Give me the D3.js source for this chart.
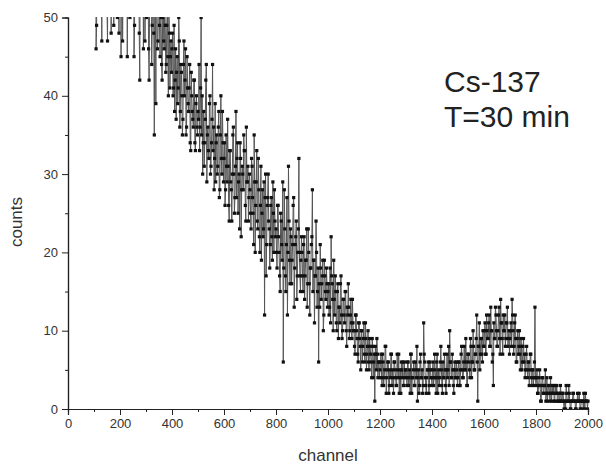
<!DOCTYPE html>
<html><head><meta charset="utf-8">
<script src="https://cdn.jsdelivr.net/npm/d3@7"></script>
<style>body{margin:0;background:#fff}svg{display:block}</style>
</head><body>
<script>
// counts read at channels 100,104,...,2000
const startA = 100, stepA = 4;
const countsA = [
63,58,46,66,55,61,70,58,64,52,67,60,59,47,65,57,62,71,53,49,60,64,58,69,48,
61,45,66,57,52,63,59,45,68,55,62,58,64,57,49,60,53,66,59,42,62,51,65,56,47,
58,52,56,42,60,54,49,56,35,51,58,46,53,49,55,44,50,47,52,43,49,45,51,41,47,
46,40,49,42,37,45,41,47,38,43,35,44,40,46,36,41,38,44,33,40,37,42,34,39,36,
38,44,36,50,40,34,31,37,44,35,33,39,30,34,44,36,32,29,35,31,38,28,40,30,34,
32,26,35,29,31,24,33,28,30,36,25,31,27,34,29,23,32,28,30,35,33,24,29,31,27,
28,23,31,25,35,20,29,24,32,22,26,19,28,23,12,30,21,27,24,18,26,22,29,20,24,
23,18,26,20,15,24,19,6,28,17,21,12,31,19,23,16,21,27,18,22,14,20,32,17,19,
20,15,22,17,19,13,23,16,18,21,28,19,11,17,20,15,6,13,18,16,19,12,17,14,16,
15,12,18,22,16,10,14,17,11,15,9,13,16,12,10,14,11,15,8,12,13,10,14,9,11,
10,7,12,9,6,11,8,10,6,9,7,11,5,8,6,9,7,4,8,6,1,7,9,4,6,
5,7,3,6,4,8,2,5,6,3,4,7,5,2,6,4,3,5,7,4,2,5,6,3,4,
5,3,6,4,2,7,4,5,3,6,4,1,5,3,7,4,2,11,6,3,4,5,2,6,4,
3,6,4,5,2,7,4,3,6,5,2,4,7,3,5,4,8,10,6,4,5,2,6,4,5,
4,6,3,7,5,4,8,5,6,3,7,5,9,4,6,8,5,7,12,1,8,5,9,7,10,
8,11,7,10,9,12,8,10,6,3,9,13,10,8,12,9,14,11,7,10,12,9,11,8,10,
9,11,14,10,8,12,6,9,7,10,5,8,6,9,7,5,8,4,6,5,7,3,5,4,13,
3,5,2,4,3,1,4,2,3,5,2,1,3,2,4,1,2,3,1,2,3,1,2,1,2,
1,2,0,1,3,1,1,2,0,1,1,2,1,0,1,2,1,1,0,1,1,2,0,1,1,
1
];
// counts read at channels 102,106,...,1998
const startB = 102, stepB = 4;
const countsB = [
57,66,49,61,72,54,60,47,68,63,56,70,51,64,59,66,48,62,73,55,60,67,50,63,58,
64,55,47,69,60,53,66,58,62,50,67,56,61,45,63,57,52,65,48,60,55,63,46,58,52,
50,57,46,53,59,44,52,48,56,39,51,47,54,45,50,42,55,46,49,44,52,40,48,45,43,
48,41,38,46,43,39,50,36,44,40,37,47,42,35,45,39,41,34,43,38,36,42,33,40,35,
37,33,41,35,30,38,34,42,29,36,32,40,31,37,33,28,39,34,30,36,27,35,32,38,29,
34,28,31,37,26,33,29,24,35,30,27,38,32,25,30,34,22,31,28,33,26,36,29,24,30,
25,32,27,21,29,26,33,23,28,20,31,25,22,29,27,17,26,30,23,21,27,19,25,28,22,
20,26,22,17,25,21,29,18,23,15,27,20,24,16,22,19,26,13,21,24,17,23,20,15,22,
17,21,14,19,23,16,20,12,18,22,15,19,17,24,13,18,16,21,14,17,10,19,15,18,13,
16,13,11,17,14,19,12,15,10,16,13,11,17,9,14,12,15,10,13,16,9,12,11,14,10,
8,12,10,7,11,9,5,10,8,11,6,9,7,10,5,8,6,9,4,7,8,5,7,6,4,
6,4,7,3,5,8,4,6,2,5,7,3,4,6,5,3,7,4,2,5,6,4,3,6,5,
4,6,3,5,7,2,4,6,3,5,8,4,2,6,4,5,3,7,4,2,5,6,3,5,4,
5,3,7,4,6,2,5,4,8,3,6,4,5,2,7,5,3,6,4,7,3,5,4,6,3,
6,3,5,8,4,6,5,9,3,7,6,4,8,6,10,5,7,9,6,8,11,7,9,6,8,
10,7,12,9,11,8,13,10,7,11,9,12,8,10,13,7,11,9,12,10,8,11,13,9,7,
10,8,12,7,11,9,6,10,8,7,9,5,8,6,4,7,5,6,3,7,4,5,3,6,4,
4,2,3,5,1,3,4,2,3,1,4,2,3,1,2,3,2,1,3,2,1,2,1,3,1,
2,1,1,0,2,1,3,1,0,1,2,1,1,0,1,1,2,0,1,1,0,1,2,1,0
];
const xTicks = [0,200,400,600,800,1000,1200,1400,1600,1800,2000];
const yTicks = [0,10,20,30,40,50];
const xLabel = "channel", yLabel = "counts";
const annotation = ["Cs-137", "T=30 min"];

const data = countsA.map((c,i)=>({x: startA + i*stepA, y: c}))
  .concat(countsB.map((c,i)=>({x: startB + i*stepB, y: c})))
  .sort((a,b)=>a.x-b.x);

const W = 606, H = 465;
const FONT = "'Liberation Sans', Arial, Helvetica, sans-serif";
const svg = d3.select("body").append("svg").attr("width",W).attr("height",H)
  .style("font-family",FONT);

const x = d3.scaleLinear().domain([0,2000]).range([68,588]);
const y = d3.scaleLinear().domain([0,50]).range([409,17.5]);

svg.append("clipPath").attr("id","clip").append("rect")
  .attr("x",66).attr("y",17).attr("width",530).attr("height",393);

const g = svg.append("g").attr("clip-path","url(#clip)");
const line = d3.line().x(d=>x(d.x)).y(d=>y(d.y));
g.append("path").datum(data).attr("d",line)
  .attr("fill","none").attr("stroke","#555").attr("stroke-width",1);
g.selectAll("rect.m").data(data).join("rect").attr("class","m")
  .attr("x",d=>x(d.x)-1.6).attr("y",d=>y(d.y)-1.6)
  .attr("width",3.2).attr("height",3.2).attr("fill","#111");

// axes
const xAxis = d3.axisBottom(x).tickValues(xTicks).tickSize(6).tickPadding(4).tickFormat(d3.format("d"));
const xMinor = d3.axisBottom(x).tickValues(d3.range(100,2000,200)).tickSize(3).tickFormat("");
const yAxis = d3.axisLeft(y).tickValues(yTicks).tickSize(6).tickPadding(4);
const yMinor = d3.axisLeft(y).tickValues(d3.range(5,50,10)).tickSize(3).tickFormat("");

function style(sel){
  sel.select(".domain").attr("stroke","#222").attr("stroke-width",1.2);
  sel.selectAll(".tick line").attr("stroke","#222");
  sel.selectAll(".tick text").attr("fill","#333").style("font-size","13px")
    .style("font-family",FONT);
}
svg.append("g").attr("transform","translate(0,409)").call(xMinor).call(style);
svg.append("g").attr("transform","translate(0,409)").call(xAxis).call(style);
svg.append("g").attr("transform","translate(68,0)").call(yMinor).call(style);
svg.append("g").attr("transform","translate(68,0)").call(yAxis).call(style);

svg.append("text").attr("x",328).attr("y",461).attr("text-anchor","middle")
  .attr("fill","#333").style("font-size","17px").text(xLabel);
svg.append("text").attr("transform","translate(22,222) rotate(-90)").attr("text-anchor","middle")
  .attr("fill","#333").style("font-size","17px").text(yLabel);

svg.selectAll("text.ann").data(annotation).join("text").attr("class","ann")
  .attr("x",444).attr("y",(d,i)=>92+i*35)
  .attr("fill","#222").style("font-size","30px").text(d=>d);
</script>
</body></html>
